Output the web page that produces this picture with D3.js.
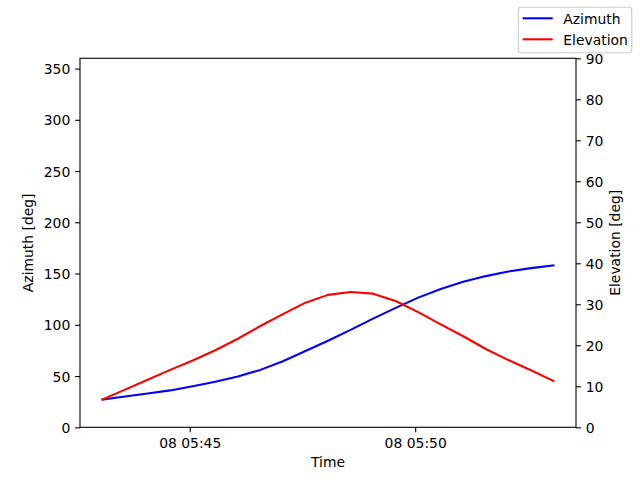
<!DOCTYPE html>
<html>
<head>
<meta charset="utf-8">
<script src="https://cdn.jsdelivr.net/npm/d3@7/dist/d3.min.js"></script>
<style>
body { margin: 0; background: #fff; }
text { font-family: "DejaVu Sans", sans-serif; font-size: 13.9px; fill: #000; }
</style>
</head>
<body>
<svg id="chart"></svg>
<script>
// pass samples, every 30 s
var times = ["2024-01-08T05:43:04", "2024-01-08T05:43:34", "2024-01-08T05:44:04", "2024-01-08T05:44:34",
  "2024-01-08T05:45:04", "2024-01-08T05:45:34", "2024-01-08T05:46:04", "2024-01-08T05:46:34",
  "2024-01-08T05:47:04", "2024-01-08T05:47:34", "2024-01-08T05:48:04", "2024-01-08T05:48:34",
  "2024-01-08T05:49:04", "2024-01-08T05:49:34", "2024-01-08T05:50:04", "2024-01-08T05:50:34",
  "2024-01-08T05:51:04", "2024-01-08T05:51:34", "2024-01-08T05:52:04", "2024-01-08T05:52:34",
  "2024-01-08T05:53:04"];
var azimuth = [27, 30, 33, 36, 40, 44.5, 49.5, 56, 64.5, 74.5, 84.5, 95, 106, 116.5, 126.5, 135, 142, 147.5, 152, 155.3, 158];
var elevation = [6.8, 9.2, 11.6, 14.0, 16.3, 18.8, 21.6, 24.7, 27.6, 30.4, 32.3, 33.0, 32.6, 30.8, 28.1, 25.1, 22.2, 19.1, 16.4, 13.9, 11.3];
var azTicks = [0, 50, 100, 150, 200, 250, 300, 350];
var elTicks = [0, 10, 20, 30, 40, 50, 60, 70, 80, 90];
var seriesNames = ["Azimuth", "Elevation"];
var seriesColors = ["#0000ff", "#ff0000"];

var width = 640,
height = 480;
// note: "top" is taken by window.top, so plot edges get their own names
var plotLeft = 80, plotRight = 576, plotTop = 58.3, plotBottom = 427.3;
var tickLen = 4.86;
var lineW = 2.08, spineW = 1.1;

var parseTime = d3.utcParse("%Y-%m-%dT%H:%M:%S");
var t = times.map(parseTime);

var svg = d3.select("#chart")
  .attr("width", width)
  .attr("height", height);

// 5% margins like the original
var ext = d3.extent(t);
var pad = (ext[1] - ext[0]) * 0.05;
var x = d3.scaleUtc()
  .domain([new Date(+ext[0] - pad), new Date(+ext[1] + pad)])
  .range([plotLeft, plotRight]);

var yAz = d3.scaleLinear().domain([0, 360]).range([plotBottom, plotTop]);
var yEl = d3.scaleLinear().domain([0, 90]).range([plotBottom, plotTop]);

var lineAz = d3.line()
  .x(function(d, i) { return x(t[i]); })
  .y(function(d) { return yAz(d); });
var lineEl = d3.line()
  .x(function(d, i) { return x(t[i]); })
  .y(function(d) { return yEl(d); });

svg.append("path")
  .attr("d", lineAz(azimuth))
  .attr("fill", "none")
  .attr("stroke", seriesColors[0])
  .attr("stroke-width", lineW)
  .attr("stroke-linejoin", "round")
  .attr("stroke-linecap", "square");

svg.append("path")
  .attr("d", lineEl(elevation))
  .attr("fill", "none")
  .attr("stroke", seriesColors[1])
  .attr("stroke-width", lineW)
  .attr("stroke-linejoin", "round")
  .attr("stroke-linecap", "square");

// axes
var xAxis = d3.axisBottom(x)
  .ticks(d3.utcMinute.every(5))
  .tickFormat(d3.utcFormat("%d %H:%M"))
  .tickSize(tickLen)
  .tickPadding(4.86);

var gx = svg.append("g")
  .attr("transform", "translate(0," + plotBottom + ")")
  .call(xAxis);

var gl = svg.append("g")
  .attr("transform", "translate(" + plotLeft + ",0)")
  .call(d3.axisLeft(yAz).tickValues(azTicks).tickSize(tickLen).tickPadding(4.86));

var gr = svg.append("g")
  .attr("transform", "translate(" + plotRight + ",0)")
  .call(d3.axisRight(yEl).tickValues(elTicks).tickSize(tickLen).tickPadding(4.86));

[gx, gl, gr].forEach(function(g) {
  g.select(".domain").remove();
  g.selectAll(".tick line").attr("stroke", "#000").attr("stroke-width", spineW);
  g.selectAll(".tick text")
    .attr("font-family", "DejaVu Sans")
    .attr("font-size", 13.9)
    .attr("fill", "#000");
});
gx.selectAll(".tick text").attr("dy", null).attr("y", 20.4);
gl.selectAll(".tick text").attr("dy", "0.36em");
gr.selectAll(".tick text").attr("dy", "0.36em");

// frame
svg.append("rect")
  .attr("x", plotLeft)
  .attr("y", plotTop)
  .attr("width", plotRight - plotLeft)
  .attr("height", plotBottom - plotTop)
  .attr("fill", "none")
  .attr("stroke", "#000")
  .attr("stroke-width", spineW);

// axis labels
svg.append("text")
  .attr("x", (plotLeft + plotRight) / 2)
  .attr("y", 466.7)
  .attr("text-anchor", "middle")
  .text("Time");

svg.append("text")
  .attr("transform", "translate(33," + (plotTop + plotBottom) / 2 + ") rotate(-90)")
  .attr("text-anchor", "middle")
  .text("Azimuth [deg]");

svg.append("text")
  .attr("transform", "translate(619.5," + (plotTop + plotBottom) / 2 + ") rotate(-90)")
  .attr("text-anchor", "middle")
  .text("Elevation [deg]");

// figure legend
var legend = svg.append("g").attr("class", "legend");
legend.append("rect")
  .attr("x", 518.3)
  .attr("y", 7.3)
  .attr("width", 113.5)
  .attr("height", 45.4)
  .attr("rx", 2.8)
  .attr("fill", "#fff")
  .attr("fill-opacity", 0.8)
  .attr("stroke", "#cccccc")
  .attr("stroke-width", spineW);

var items = legend.selectAll(".item")
  .data(seriesNames)
  .enter().append("g")
  .attr("class", "item")
  .attr("transform", function(d, i) { return "translate(0," + (18.3 + i * 21) + ")"; });

items.append("line")
  .attr("x1", 522.7)
  .attr("x2", 552.7)
  .attr("stroke", function(d, i) { return seriesColors[i]; })
  .attr("stroke-width", lineW);

items.append("text")
  .attr("x", 563.3)
  .attr("y", 5.5)
  .text(function(d) { return d; });
</script>
</body>
</html>
